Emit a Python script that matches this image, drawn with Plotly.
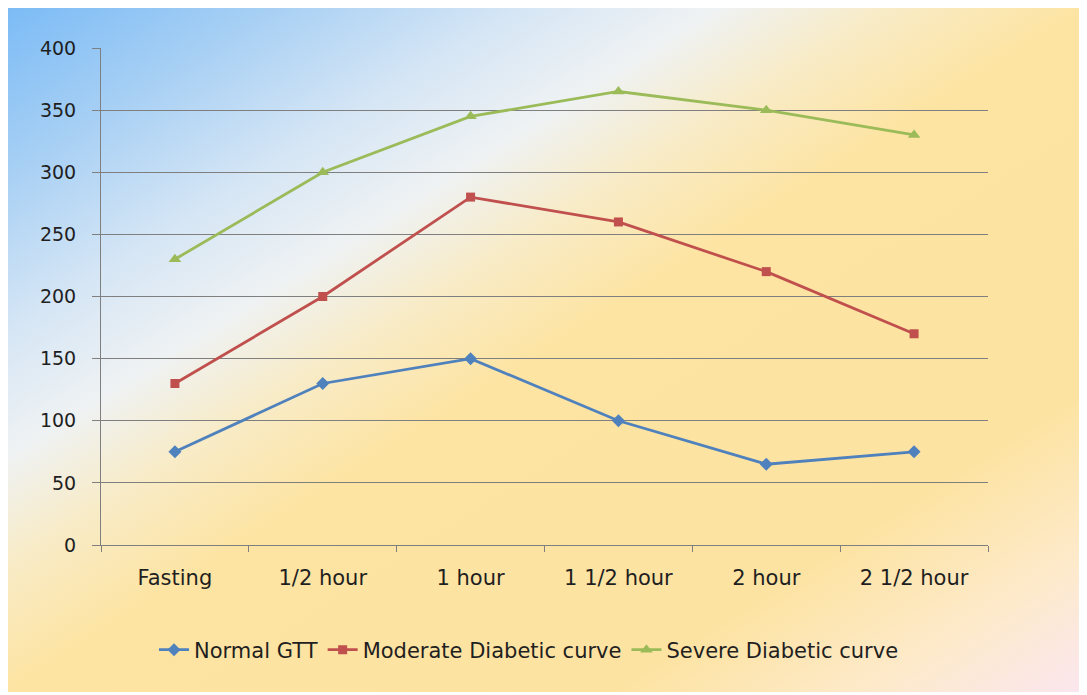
import plotly.graph_objects as go
import urllib.parse

categories = ["Fasting", "1/2 hour", "1 hour", "1 1/2 hour", "2 hour", "2 1/2 hour"]
normal_gtt = [75, 130, 150, 100, 65, 75]
moderate_diabetic = [130, 200, 280, 260, 220, 170]
severe_diabetic = [230, 300, 345, 365, 350, 330]
y_ticks = [0, 50, 100, 150, 200, 250, 300, 350, 400]

OFF = 8  # page body margin
W, H = 1087 - OFF, 695 - OFF
pw, ph = 887, 497
L, T = 101 - OFF, 48 - OFF
R, B = W - L - pw, H - T - ph

def px_x(x):
    return (x - OFF - L) / pw

def px_y(y):
    return (T + ph - (y - OFF)) / ph

FONT = "Comic Sans MS, DejaVu Sans, sans-serif"

svg = (
    "<svg xmlns='http://www.w3.org/2000/svg' width='1082' height='685' viewBox='0 0 1082 685' preserveAspectRatio='none'>"
    "<defs><linearGradient id='g' x1='0' y1='0' x2='1' y2='1'>"
    "<stop offset='0' stop-color='#7bbbf6'/>"
    "<stop offset='0.12' stop-color='#a6cff4'/>"
    "<stop offset='0.24' stop-color='#d6e6f5'/>"
    "<stop offset='0.33' stop-color='#eff2f3'/>"
    "<stop offset='0.41' stop-color='#f8ebc6'/>"
    "<stop offset='0.5' stop-color='#fde4a3'/>"
    "<stop offset='0.78' stop-color='#fde3a2'/>"
    "<stop offset='0.9' stop-color='#fdeacb'/>"
    "<stop offset='1' stop-color='#fbe6f0'/>"
    "</linearGradient></defs>"
    "<rect x='0' y='0' width='1082' height='685' fill='url(#g)'/></svg>"
)
svg_uri = "data:image/svg+xml;charset=utf-8," + urllib.parse.quote(svg)

fig = go.Figure()
fig.add_trace(go.Scatter(
    x=categories, y=normal_gtt, name="Normal GTT", mode="lines+markers",
    line=dict(color="#4f81bd", width=2.8),
    marker=dict(symbol="diamond", size=10, color="#4f81bd"),
))
fig.add_trace(go.Scatter(
    x=categories, y=moderate_diabetic, name="Moderate Diabetic curve", mode="lines+markers",
    line=dict(color="#c0504d", width=2.8),
    marker=dict(symbol="square", size=9, color="#c0504d"),
))
fig.add_trace(go.Scatter(
    x=categories, y=severe_diabetic, name="Severe Diabetic curve", mode="lines+markers",
    line=dict(color="#9bbb59", width=2.8),
    marker=dict(symbol="triangle-up", size=11, color="#9bbb59"),
))

fig.update_layout(
    width=W, height=H,
    margin=dict(l=L, r=R, t=T, b=B, autoexpand=False),
    paper_bgcolor="white",
    plot_bgcolor="rgba(0,0,0,0)",
    font=dict(family=FONT, size=21, color="#1f1f1f"),
    showlegend=True,
    legend=dict(
        orientation="h", x=px_x(529), xanchor="center", y=px_y(650), yanchor="middle",
        bgcolor="rgba(0,0,0,0)", font=dict(family=FONT, size=21, color="#1f1f1f"),
        itemwidth=30,
    ),
    images=[dict(
        source=svg_uri, xref="paper", yref="paper",
        x=px_x(5), y=px_y(7), sizex=1082 / pw, sizey=685 / ph,
        xanchor="left", yanchor="top", sizing="stretch", layer="below",
    )],
    xaxis=dict(
        type="category", range=[-0.5, 5.5], showgrid=False,
        showline=True, linecolor="#7f7f7f", linewidth=1,
        ticks="outside", tickson="boundaries", ticklen=6, tickcolor="#7f7f7f",
        tickfont=dict(family=FONT, size=21, color="#1f1f1f"),
        ticklabelstandoff=14, fixedrange=True,
    ),
    yaxis=dict(
        range=[0, 400], tickvals=y_ticks, showgrid=True,
        gridcolor="#7f7f7f", gridwidth=1, zeroline=False,
        showline=True, linecolor="#7f7f7f", linewidth=1,
        ticks="outside", ticklen=8, tickcolor="#7f7f7f",
        tickfont=dict(family=FONT, size=19, color="#1f1f1f"),
        ticklabelstandoff=12, fixedrange=True,
    ),
)

fig.write_html("out.html")
